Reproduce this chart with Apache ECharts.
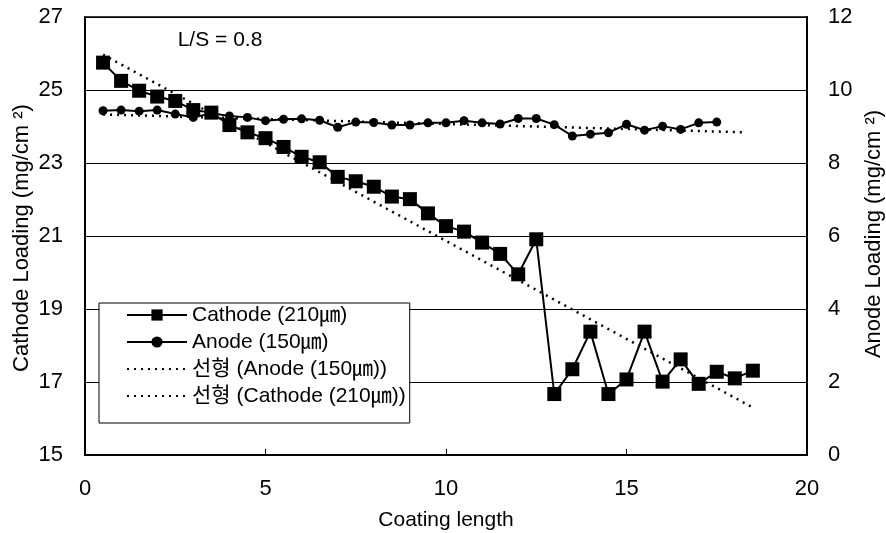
<!DOCTYPE html>
<html>
<head>
<meta charset="utf-8">
<script src="https://cdn.jsdelivr.net/npm/echarts@6/dist/echarts.min.js"></script>
<style>
  html, body { margin: 0; padding: 0; background: #fff; }
  #chart { width: 886px; height: 533px; }
</style>
</head>
<body>
<div id="chart"></div>
<script>
// 코팅 길이별 로딩량 (L/S = 0.8)
var xCathode = [0.5, 1, 1.5, 2, 2.5, 3, 3.5, 4, 4.5, 5, 5.5, 6, 6.5, 7, 7.5, 8, 8.5, 9, 9.5,
                10, 10.5, 11, 11.5, 12, 12.5, 13, 13.5, 14, 14.5, 15, 15.5, 16, 16.5, 17, 17.5, 18, 18.5];
var cathode = [25.75, 25.25, 24.98, 24.82, 24.70, 24.45, 24.38, 24.04, 23.84, 23.68, 23.44, 23.17,
               23.02, 22.62, 22.50, 22.35, 22.08, 22.01, 21.62, 21.27, 21.12, 20.82, 20.51, 19.95,
               20.91, 16.67, 17.35, 18.38, 16.67, 17.07, 18.38, 17.01, 17.62, 16.95, 17.28, 17.10, 17.31];
var xAnode = [0.5, 1, 1.5, 2, 2.5, 3, 3.5, 4, 4.5, 5, 5.5, 6, 6.5, 7, 7.5, 8, 8.5, 9, 9.5,
              10, 10.5, 11, 11.5, 12, 12.5, 13, 13.5, 14, 14.5, 15, 15.5, 16, 16.5, 17, 17.5];
var anode = [9.43, 9.45, 9.42, 9.45, 9.34, 9.25, 9.36, 9.29, 9.25, 9.16, 9.20, 9.21, 9.17, 8.98,
             9.12, 9.11, 9.04, 9.04, 9.10, 9.10, 9.16, 9.10, 9.07, 9.22, 9.22, 9.05, 8.74, 8.79,
             8.83, 9.06, 8.90, 9.01, 8.92, 9.10, 9.12];
// 선형 추세선 양 끝점
var anodeTrend = [[0.5, 9.33], [18.3, 8.84]];
var cathodeTrend = [[0.5, 25.97], [18.5, 16.3]];

var xTicks = [0, 20, 5];        // min, max, interval
var leftTicks = [15, 27, 2];
var rightTicks = [0, 12, 2];

var names = ["Cathode (210㎛)", "Anode (150㎛)", "선형 (Anode (150㎛))", "선형 (Cathode (210㎛))"];

var FONT = "'Liberation Sans', 'Noto Sans CJK KR', sans-serif";

function pairs(xs, ys) {
  return xs.map(function (x, i) { return [x, ys[i]]; });
}

var chart = echarts.init(document.getElementById("chart"), null, { renderer: "canvas" });

var axisCommon = {
  axisLine: { show: true, lineStyle: { color: "#000", width: 2 } },
  axisTick: { show: true, inside: true, length: 6, lineStyle: { color: "#000", width: 1 } },
  axisLabel: { color: "#000", fontSize: 22, fontFamily: FONT }
};

// 추세선 범례는 점선만 (마커 숨김)
var noMark = { color: "transparent", borderColor: "transparent", borderWidth: 0, opacity: 0 };

chart.setOption({
  animation: false,
  backgroundColor: "#fff",
  grid: { left: 85, right: 79, top: 17, bottom: 78, show: true,
          borderColor: "#000", borderWidth: 1.5, backgroundColor: "transparent" },
  xAxis: Object.assign({}, axisCommon, {
    type: "value", min: xTicks[0], max: xTicks[1], interval: xTicks[2],
    splitLine: { show: false },
    axisLabel: Object.assign({}, axisCommon.axisLabel, { margin: 23 })
  }),
  yAxis: [
    Object.assign({}, axisCommon, {
      type: "value", position: "left", min: leftTicks[0], max: leftTicks[1], interval: leftTicks[2],
      splitLine: { show: true, lineStyle: { color: "#000", width: 1 } },
      axisLabel: Object.assign({}, axisCommon.axisLabel, { margin: 22 })
    }),
    Object.assign({}, axisCommon, {
      type: "value", position: "right", min: rightTicks[0], max: rightTicks[1], interval: rightTicks[2],
      splitLine: { show: false },
      axisLabel: Object.assign({}, axisCommon.axisLabel, { margin: 21 })
    })
  ],
  legend: {
    orient: "vertical", left: 99, top: 303,
    backgroundColor: "#fff", borderColor: "#000", borderWidth: 1,
    padding: [1, 4, 16, 27],
    itemWidth: 60, itemHeight: 14, itemGap: 5,
    textStyle: { color: "#000", fontSize: 21, fontFamily: FONT, lineHeight: 22 },
    data: [
      { name: names[0] },
      { name: names[1] },
      { name: names[2], itemStyle: noMark },
      { name: names[3], itemStyle: noMark }
    ]
  },
  graphic: [
    { type: "text", x: 220, y: 40, style: { text: "L/S = 0.8", font: "21px " + FONT,
      fill: "#000", align: "center", verticalAlign: "middle" } },
    { type: "text", x: 446, y: 520, style: { text: "Coating length", font: "21px " + FONT,
      fill: "#000", align: "center", verticalAlign: "middle" } },
    { type: "text", x: 22, y: 238, rotation: Math.PI / 2, style: { text: "Cathode Loading (mg/cm ²)",
      font: "22px " + FONT, fill: "#000", align: "center", verticalAlign: "middle" } },
    { type: "text", x: 874, y: 234, rotation: Math.PI / 2, style: { text: "Anode Loading (mg/cm ²)",
      font: "22px " + FONT, fill: "#000", align: "center", verticalAlign: "middle" } }
  ],
  series: [
    {
      name: names[0], type: "line", yAxisIndex: 0, z: 4,
      data: pairs(xCathode, cathode),
      symbol: "rect", symbolSize: 14,
      lineStyle: { color: "#000", width: 2 },
      itemStyle: { color: "#000" }
    },
    {
      name: names[1], type: "line", yAxisIndex: 1, z: 4,
      data: pairs(xAnode, anode),
      symbol: "circle", symbolSize: 9,
      lineStyle: { color: "#000", width: 2 },
      itemStyle: { color: "#000" }
    },
    {
      name: names[2], type: "line", yAxisIndex: 1, z: 3,
      data: anodeTrend, showSymbol: false, symbol: "none",
      lineStyle: { color: "#000", width: 2.5, type: [2, 5] },
      itemStyle: { color: "#000" }
    },
    {
      name: names[3], type: "line", yAxisIndex: 0, z: 3,
      data: cathodeTrend, showSymbol: false, symbol: "none",
      lineStyle: { color: "#000", width: 2.5, type: [2, 5] },
      itemStyle: { color: "#000" }
    }
  ]
});
</script>
</body>
</html>
